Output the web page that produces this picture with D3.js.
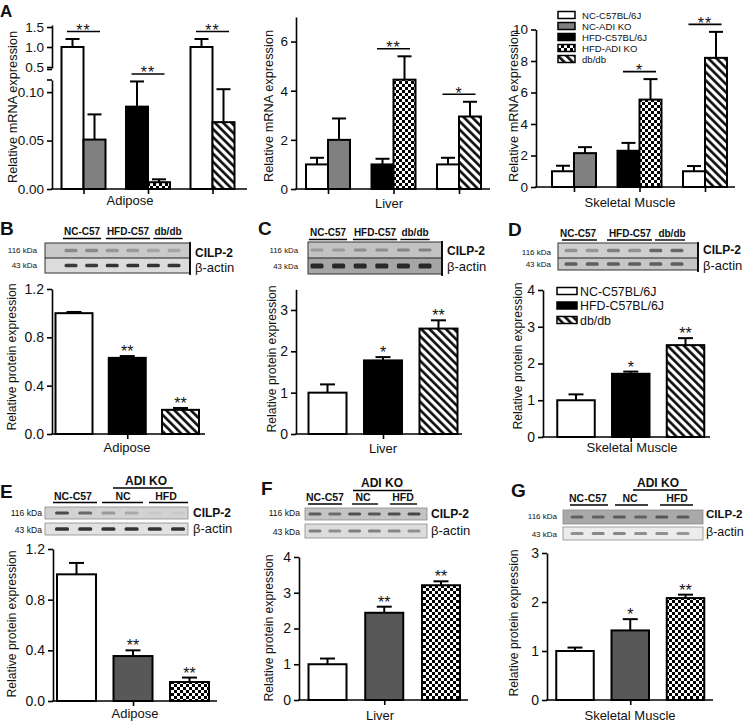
<!DOCTYPE html>
<html><head><meta charset="utf-8">
<script src="https://cdn.jsdelivr.net/npm/d3@7"></script>
<style>body{margin:0;background:#fff}svg{display:block}</style>
</head><body><svg id="c" width="744" height="722"></svg>
<script>
// ================= DATA =================
const seriesNames = ["NC-C57BL/6J","NC-ADI KO","HFD-C57BL/6J","HFD-ADI KO","db/db"];
const mrnaBarSeries = ["NC-C57BL/6J","NC-ADI KO","HFD-C57BL/6J","HFD-ADI KO","NC-C57BL/6J","db/db"];
const mrnaAdiposeMean = [1.0, 0.051, 0.085, 0.007, 1.0, 0.069];
const mrnaAdiposeSem  = [0.20, 0.026, 0.026, 0.003, 0.20, 0.034];
const mrnaAdiposeSig  = ["**","**","**"];
const mrnaLiverMean = [1.0, 2.0, 1.0, 4.45, 1.0, 2.95];
const mrnaLiverSem  = [0.27, 0.87, 0.23, 0.95, 0.27, 0.60];
const mrnaLiverSig  = ["","**","*"];
const mrnaMuscleMean = [1.0, 2.15, 2.3, 5.55, 1.0, 8.2];
const mrnaMuscleSem  = [0.35, 0.38, 0.5, 1.3, 0.33, 1.65];
const mrnaMuscleSig  = ["","*","**"];
const adiposeLowTicks = [0, 0.05, 0.10], adiposeLowLabels = ["0.00","0.05","0.10"];
const adiposeHighTicks = [0.5, 1.0, 1.5], adiposeHighLabels = ["0.5","1.0","1.5"];
const liverMrnaTicks = [0,2,4,6];
const muscleMrnaTicks = [0,2,4,6,8,10];

const protSeriesDiet = ["NC-C57BL/6J","HFD-C57BL/6J","db/db"];
const protSeriesKO   = ["NC-C57BL/6J","NC-ADI KO","HFD-ADI KO"];
const protAdiposeDietMean = [1.0, 0.63, 0.20], protAdiposeDietSem = [0.01, 0.015, 0.015], protAdiposeDietSig = ["","**","**"];
const protLiverDietMean   = [1.0, 1.78, 2.55], protLiverDietSem   = [0.20, 0.08, 0.20],  protLiverDietSig   = ["","*","**"];
const protMuscleDietMean  = [1.0, 1.72, 2.50], protMuscleDietSem  = [0.16, 0.06, 0.19],  protMuscleDietSig  = ["","*","**"];
const protAdiposeKOMean   = [1.0, 0.355, 0.15], protAdiposeKOSem  = [0.09, 0.045, 0.035], protAdiposeKOSig  = ["","**","**"];
const protLiverKOMean     = [1.0, 2.44, 3.21], protLiverKOSem     = [0.16, 0.17, 0.11],  protLiverKOSig     = ["","**","**"];
const protMuscleKOMean    = [1.0, 1.42, 2.08], protMuscleKOSem    = [0.07, 0.23, 0.07],  protMuscleKOSig    = ["","*","**"];
const ticks12 = [0, 0.4, 0.8, 1.2], ticks12Labels = ["0.0","0.4","0.8","1.2"];
const ticks3 = [0,1,2,3], ticks4 = [0,1,2,3,4];

const blotDietGroups = ["NC-C57","HFD-C57","db/db"];
const blotKOGroups = ["NC-C57","NC","HFD"];
const blotKOHeader = "ADI KO";
const blotBands = ["CILP-2","\u03B2-actin"];
const blotMarkers = ["116 kDa","43 kDa"];

// ================= SETUP =================
const FONT = '"Liberation Sans", Arial, Helvetica, sans-serif';
const svg = d3.select("#c");
const defs = svg.append("defs");
const ck = defs.append("pattern").attr("id","checker").attr("width",6).attr("height",6).attr("patternUnits","userSpaceOnUse");
ck.append("rect").attr("width",6).attr("height",6).attr("fill","#fff");
ck.append("rect").attr("width",3).attr("height",3).attr("fill","#000");
ck.append("rect").attr("x",3).attr("y",3).attr("width",3).attr("height",3).attr("fill","#000");
const ht = defs.append("pattern").attr("id","hatch").attr("width",5.8).attr("height",5.8)
  .attr("patternUnits","userSpaceOnUse").attr("patternTransform","rotate(-45)");
ht.append("rect").attr("width",5.8).attr("height",5.8).attr("fill","#fff");
ht.append("line").attr("x1",1.4).attr("x2",1.4).attr("y1",-1).attr("y2",7).attr("stroke","#000").attr("stroke-width",2.5);
defs.append("filter").attr("id","blur").attr("x","-20%").attr("y","-50%").attr("width","140%").attr("height","200%")
  .append("feGaussianBlur").attr("stdDeviation",0.7);

const fillA = {"NC-C57BL/6J":"#fff","NC-ADI KO":"#808080","HFD-C57BL/6J":"#000","HFD-ADI KO":"url(#checker)","db/db":"url(#hatch)"};
const fillP = {"NC-C57BL/6J":"#fff","NC-ADI KO":"#585858","HFD-C57BL/6J":"#000","HFD-ADI KO":"url(#checker)","db/db":"url(#hatch)"};

function txt(g, x, y, s, size, opts = {}) {
  const t = g.append("text").attr("x", x).attr("y", y).text(s)
    .attr("font-family", FONT).attr("font-size", size).attr("fill", "#111")
    .attr("text-anchor", opts.anchor || "start");
  if (opts.bold) t.attr("font-weight", "bold");
  if (opts.rot) t.attr("transform", `rotate(-90,${x},${y})`);
  if (opts.ls) t.attr("letter-spacing", opts.ls);
  return t;
}

// generic bar panel
function drawBars(p) {
  const g = svg.append("g");
  p.yAxes.forEach(a => {
    const ax = d3.axisLeft(a.scale).tickValues(a.ticks).tickFormat((d, i) => a.labels[i])
      .tickSizeOuter(0).tickSizeInner(5).tickPadding(3);
    const ag = g.append("g").attr("transform", `translate(${p.axisX},0)`).call(ax);
    ag.selectAll("path,line").attr("stroke", "#000").attr("stroke-width", 1.6);
    ag.selectAll("text").attr("font-family", FONT).attr("font-size", p.tickFont).attr("fill", "#111");
    (a.breakTicks || []).forEach(v => {
      g.append("line").attr("x1", p.axisX - 5).attr("x2", p.axisX).attr("y1", v).attr("y2", v)
        .attr("stroke", "#000").attr("stroke-width", 1.6);
    });
  });
  const y = p.y;
  const y0 = y(0);
  g.append("line").attr("x1", p.axisX - 0.8).attr("x2", p.xEnd).attr("y1", y0).attr("y2", y0)
    .attr("stroke", "#000").attr("stroke-width", 1.6);
  const xa = d3.axisBottom(p.tickScale).tickFormat("").tickSizeInner(5).tickSizeOuter(0);
  const xg = g.append("g").attr("transform", `translate(0,${y0})`).call(xa);
  xg.select(".domain").remove();
  xg.selectAll("line").attr("stroke", "#000").attr("stroke-width", 1.6);
  const bars = p.mean.map((m, i) => ({ m, s: p.sem[i], series: p.series[i], x: p.barX(i), sig: p.barSig ? p.barSig[i] : "" }));
  g.selectAll("rect.bar").data(bars).join("rect").attr("class", "bar")
    .attr("x", d => d.x).attr("width", p.barW)
    .attr("y", d => y(d.m)).attr("height", d => y0 - y(d.m))
    .attr("fill", d => p.fills[d.series]).attr("stroke", "#000").attr("stroke-width", 2);
  bars.forEach(d => {
    const cx = d.x + p.barW / 2, yt = y(d.m + d.s);
    g.append("line").attr("x1", cx).attr("x2", cx).attr("y1", y(d.m)).attr("y2", yt).attr("stroke", "#000").attr("stroke-width", 2);
    g.append("line").attr("x1", cx - p.capW / 2).attr("x2", cx + p.capW / 2).attr("y1", yt).attr("y2", yt).attr("stroke", "#000").attr("stroke-width", 2);
    if (d.sig) txt(g, cx, yt + 1, d.sig, 16, { anchor: "middle" });
  });
  if (p.pairSig) {
    p.pairSig.forEach((s, k) => {
      if (!s) return;
      const gc = p.groupX(k);
      const top = Math.min(y(p.mean[2*k] + p.sem[2*k]), y(p.mean[2*k+1] + p.sem[2*k+1]));
      const ly = top - 7.5;
      g.append("line").attr("x1", gc - 16.5).attr("x2", gc + 16.5).attr("y1", ly).attr("y2", ly).attr("stroke", "#000").attr("stroke-width", 1.6);
      txt(g, gc, ly + 4.5, s, 16, { anchor: "middle", ls: 1 });
    });
  }
  txt(g, p.xLabel[0], p.xLabel[1], p.xTitle, p.xTitleFont, { anchor: "middle" });
  txt(g, p.yLabel[0], p.yLabel[1], p.yTitle, p.yTitleFont, { anchor: "middle", rot: true });
}

// ---------- Panel A (mRNA) ----------
function mrnaPanel(cfg) {
  const groupX = d3.scalePoint().domain([0, 1, 2]).range(cfg.groups);
  const bw = 22;
  drawBars({
    axisX: cfg.axisX, xEnd: cfg.xEnd, yAxes: cfg.yAxes, y: cfg.y,
    tickScale: groupX, mean: cfg.mean, sem: cfg.sem, series: mrnaBarSeries, fills: fillA,
    barW: bw, capW: 14, barX: i => groupX(Math.floor(i / 2)) - (i % 2 === 0 ? bw : 0),
    groupX, pairSig: cfg.sig, tickFont: 13.5,
    xTitle: cfg.xTitle, xLabel: cfg.xLabel, xTitleFont: 13,
    yTitle: "Relative mRNA expression", yLabel: cfg.yLabel, yTitleFont: 12.8
  });
}
const adLow = d3.scaleLinear().domain([0, 0.1125]).range([189, 80]);
const adHigh = d3.scaleLinear().domain([0.475, 1.55]).range([68, 25]);
const adY = v => v <= 0.1125 ? adLow(v) : adHigh(v);
mrnaPanel({ axisX: 52, xEnd: 247, groups: [83.5, 212.5],
  yAxes: [{ scale: adLow, ticks: adiposeLowTicks, labels: adiposeLowLabels, breakTicks: [80] },
          { scale: adHigh, ticks: adiposeHighTicks, labels: adiposeHighLabels, breakTicks: [69.5] }],
  y: adY, mean: mrnaAdiposeMean, sem: mrnaAdiposeSem, sig: mrnaAdiposeSig,
  xTitle: "Adipose", xLabel: [130, 205], yLabel: [17, 107] });
const livY = d3.scaleLinear().domain([0, 7]).range([189, 17]);
mrnaPanel({ axisX: 296, xEnd: 490, groups: [328, 459],
  yAxes: [{ scale: livY, ticks: liverMrnaTicks, labels: liverMrnaTicks.map(String) }],
  y: livY, mean: mrnaLiverMean, sem: mrnaLiverSem, sig: mrnaLiverSig,
  xTitle: "Liver", xLabel: [389, 207.5], yLabel: [273, 106] });
const musY = d3.scaleLinear().domain([0, 10]).range([187, 29.5]);
mrnaPanel({ axisX: 536, xEnd: 735, groups: [574, 705],
  yAxes: [{ scale: musY, ticks: muscleMrnaTicks, labels: muscleMrnaTicks.map(String) }],
  y: musY, mean: mrnaMuscleMean, sem: mrnaMuscleSem, sig: mrnaMuscleSig,
  xTitle: "Skeletal Muscle", xLabel: [630, 207], yLabel: [518, 106] });

(function () {
  const g = svg.append("g");
  const ly = d3.scalePoint().domain(seriesNames).range([15, 59]);
  seriesNames.forEach(s => {
    g.append("rect").attr("x", 558).attr("y", ly(s) - 3.5).attr("width", 17).attr("height", 7)
      .attr("fill", fillA[s]).attr("stroke", "#000").attr("stroke-width", 1.5);
    txt(g, 582, ly(s) + 3.5, s, 9.6);
  });
})();

// ---------- Protein panels ----------
function protPanel(cfg) {
  const cx = d3.scalePoint().domain([0, 1, 2]).range(cfg.centers);
  const mid = d3.scalePoint().domain([1]).range([cx(1), cx(1)]);
  drawBars({
    axisX: cfg.axisX, xEnd: cfg.xEnd,
    yAxes: [{ scale: cfg.y, ticks: cfg.ticks, labels: cfg.labels }], y: cfg.y,
    tickScale: mid, mean: cfg.mean, sem: cfg.sem, series: cfg.series, fills: fillP,
    barW: cfg.barW, capW: 15, barX: i => cx(i) - cfg.barW / 2, barSig: cfg.sig, tickFont: 14,
    xTitle: cfg.xTitle, xLabel: cfg.xLabel, xTitleFont: 13,
    yTitle: "Relative protein expression", yLabel: cfg.yLabel, yTitleFont: 12.2
  });
}
protPanel({ axisX: 52, xEnd: 205, centers: [74, 180.5], barW: 37,
  y: d3.scaleLinear().domain([0, 1.2]).range([434, 289]), ticks: ticks12, labels: ticks12Labels,
  mean: protAdiposeDietMean, sem: protAdiposeDietSem, sig: protAdiposeDietSig, series: protSeriesDiet,
  xTitle: "Adipose", xLabel: [127, 451.5], yLabel: [16, 357] });
protPanel({ axisX: 296, xEnd: 462, centers: [327.5, 438.5], barW: 38,
  y: d3.scaleLinear().domain([0, 3.5]).range([434, 289.3]), ticks: ticks3, labels: ticks3.map(String),
  mean: protLiverDietMean, sem: protLiverDietSem, sig: protLiverDietSig, series: protSeriesDiet,
  xTitle: "Liver", xLabel: [383, 453], yLabel: [276, 359] });
protPanel({ axisX: 543, xEnd: 710, centers: [576, 685.5], barW: 37.5,
  y: d3.scaleLinear().domain([0, 4]).range([437, 290]), ticks: ticks4, labels: ticks4.map(String),
  mean: protMuscleDietMean, sem: protMuscleDietSem, sig: protMuscleDietSig, series: protSeriesDiet,
  xTitle: "Skeletal Muscle", xLabel: [632, 452], yLabel: [522, 356] });
protPanel({ axisX: 53, xEnd: 217, centers: [76.5, 189.5], barW: 39,
  y: d3.scaleLinear().domain([0, 1.2]).range([701, 549]), ticks: ticks12, labels: ticks12Labels,
  mean: protAdiposeKOMean, sem: protAdiposeKOSem, sig: protAdiposeKOSig, series: protSeriesKO,
  xTitle: "Adipose", xLabel: [135, 717.5], yLabel: [16, 624] });
protPanel({ axisX: 299, xEnd: 468, centers: [327.5, 441], barW: 38,
  y: d3.scaleLinear().domain([0, 4]).range([700, 557]), ticks: ticks4, labels: ticks4.map(String),
  mean: protLiverKOMean, sem: protLiverKOSem, sig: protLiverKOSig, series: protSeriesKO,
  xTitle: "Liver", xLabel: [380, 720], yLabel: [273, 628] });
protPanel({ axisX: 547, xEnd: 713, centers: [575, 685.5], barW: 37.5,
  y: d3.scaleLinear().domain([0, 3]).range([700, 553]), ticks: ticks3, labels: ticks3.map(String),
  mean: protMuscleKOMean, sem: protMuscleKOSem, sig: protMuscleKOSig, series: protSeriesKO,
  xTitle: "Skeletal Muscle", xLabel: [630, 720], yLabel: [518, 623] });

(function () {
  const g = svg.append("g");
  const ly = d3.scalePoint().domain(protSeriesDiet).range([291, 320]);
  protSeriesDiet.forEach(s => {
    g.append("rect").attr("x", 557).attr("y", ly(s) - 3.5).attr("width", 20).attr("height", 7)
      .attr("fill", fillP[s]).attr("stroke", "#000").attr("stroke-width", 1.5);
    txt(g, 580, ly(s) + 4.5, s, 12.4);
  });
})();

// ---------- Western blots (illustrative) ----------
function drawBlot(b) {
  const g = svg.append("g");
  const lane = d3.scalePoint().domain(d3.range(6)).range(b.lanes);
  b.rows.forEach((r, i) => {
    g.append("rect").attr("x", b.x[0]).attr("y", r.y[0]).attr("width", b.x[1] - b.x[0]).attr("height", r.y[1] - r.y[0])
      .attr("fill", r.bg).attr("stroke", b.joined ? "none" : "#8a8a8a").attr("stroke-width", 0.8);
    r.int.forEach((v, j) => {
      if (v <= 0) return;
      g.append("rect").attr("x", lane(j) - b.bandW / 2).attr("y", (r.y[0] + r.y[1]) / 2 - r.bh / 2 + (r.dy || 0))
        .attr("width", b.bandW).attr("height", r.bh).attr("rx", 1.5)
        .attr("fill", r.band).attr("opacity", v).attr("filter", "url(#blur)");
    });
    txt(g, b.labelX, r.lab, blotBands[i], i === 0 ? b.labFont : b.labFont + 1, { bold: i === 0 });
    txt(g, b.kdaX, r.kda, blotMarkers[i], b.kdaFont, { anchor: "end" });
  });
  if (b.joined) {
    g.append("rect").attr("x", b.x[0]).attr("y", b.rows[0].y[0]).attr("width", b.x[1] - b.x[0])
      .attr("height", b.rows[1].y[1] - b.rows[0].y[0]).attr("fill", "none").attr("stroke", "#333").attr("stroke-width", 1);
    g.append("line").attr("x1", b.x[0]).attr("x2", b.x[1]).attr("y1", b.rows[0].y[1]).attr("y2", b.rows[0].y[1])
      .attr("stroke", "#222").attr("stroke-width", 1.2);
    g.append("line").attr("x1", b.x[1]).attr("x2", b.x[1]).attr("y1", b.rows[0].y[0] - 1).attr("y2", b.rows[1].y[1] + 2)
      .attr("stroke", "#000").attr("stroke-width", 1.8);
  }
  b.groupNames.forEach((s, k) => {
    const t = txt(g, b.groupCx[k], b.groupY, s, b.groupFont, { anchor: "middle", bold: true });
    const ext = b.underline ? b.underline[k] : (() => { const w = t.node().getComputedTextLength(); return [b.groupCx[k] - w / 2 - 1, b.groupCx[k] + w / 2 + 1]; })();
    g.append("line").attr("x1", ext[0]).attr("x2", ext[1]).attr("y1", b.ulY).attr("y2", b.ulY).attr("stroke", "#000").attr("stroke-width", 1.4);
  });
  if (b.header) {
    txt(g, b.header.cx, b.header.y, blotKOHeader, 12, { anchor: "middle", bold: true });
    g.append("line").attr("x1", b.header.line[0]).attr("x2", b.header.line[1]).attr("y1", b.header.ly).attr("y2", b.header.ly)
      .attr("stroke", "#000").attr("stroke-width", 1.4);
  }
}

drawBlot({ x: [45, 190], joined: true, lanes: [71, 174], bandW: 13, labelX: 195, labFont: 12, kdaX: 37, kdaFont: 8,
  rows: [{ y: [243, 258], bg: "#c9c9c9", band: "#6e6e6e", bh: 3.5, int: [0.7, 0.7, 0.55, 0.5, 0.4, 0.4], lab: 257, kda: 253 },
         { y: [258, 273], bg: "#dcdcdc", band: "#2a2a2a", bh: 3.5, int: [0.9, 0.9, 0.95, 0.95, 0.95, 0.95], lab: 272, kda: 268 }],
  groupNames: blotDietGroups, groupCx: [82, 128, 168], groupY: 235, groupFont: 10, ulY: 238.5 });
drawBlot({ x: [308, 442], joined: true, lanes: [317, 425], bandW: 13, labelX: 447, labFont: 12, kdaX: 298, kdaFont: 7.8,
  rows: [{ y: [242, 258], bg: "#c2c2c2", band: "#6a6a6a", bh: 3, int: [0.45, 0.45, 0.6, 0.6, 0.7, 0.75], lab: 255, kda: 253 },
         { y: [258, 274], bg: "#a6a6a6", band: "#222", bh: 5, int: [0.95, 0.95, 0.95, 0.95, 0.95, 0.95], lab: 271, kda: 269 }],
  groupNames: blotDietGroups, groupCx: [328, 375, 415], groupY: 236, groupFont: 10, ulY: 239.5 });
drawBlot({ x: [558, 698], joined: true, lanes: [571, 677], bandW: 13, labelX: 703, labFont: 12, kdaX: 551, kdaFont: 8,
  rows: [{ y: [243, 258], bg: "#cfcfcf", band: "#555", bh: 3.5, int: [0.5, 0.45, 0.65, 0.5, 0.85, 0.85], lab: 254, kda: 255 },
         { y: [258, 270], bg: "#c6c6c6", band: "#444", bh: 3.5, int: [0.8, 0.8, 0.8, 0.8, 0.8, 0.8], lab: 270, kda: 267 }],
  groupNames: blotDietGroups, groupCx: [578, 630, 672], groupY: 237, groupFont: 10, ulY: 240,
  underline: [[562, 597], [607, 652], [655, 685]] });
drawBlot({ x: [45, 188], joined: false, lanes: [62, 178], bandW: 14, labelX: 193, labFont: 12, kdaX: 42, kdaFont: 8.6,
  rows: [{ y: [507, 519], bg: "#d2d2d2", band: "#333", bh: 3, int: [0.85, 0.65, 0.35, 0.25, 0.05, 0.05], lab: 517, kda: 516 },
         { y: [523, 535], bg: "#e2e2e2", band: "#222", bh: 3.5, int: [0.9, 0.9, 0.9, 0.9, 0.9, 0.9], lab: 533, kda: 533 }],
  groupNames: blotKOGroups, groupCx: [73, 123, 166], groupY: 499.5, groupFont: 10.5, ulY: 502.5,
  underline: [[53, 97], [102, 143], [149, 188]],
  header: { cx: 146, y: 485, line: [113, 173], ly: 488 } });
drawBlot({ x: [305, 427], joined: false, lanes: [315, 414], bandW: 13, labelX: 431, labFont: 12, kdaX: 300, kdaFont: 8.6,
  rows: [{ y: [508, 520], bg: "#c4c4c4", band: "#333", bh: 3, int: [0.7, 0.6, 0.8, 0.75, 0.8, 0.85], lab: 518, kda: 516 },
         { y: [524, 538], bg: "#dcdcdc", band: "#444", bh: 3, int: [0.6, 0.5, 0.6, 0.6, 0.55, 0.5], lab: 535, kda: 535 }],
  groupNames: blotKOGroups, groupCx: [325, 363, 403], groupY: 501, groupFont: 10.5, ulY: 504,
  underline: [[308, 342], [352, 378], [390, 417]],
  header: { cx: 382, y: 487, line: [353, 412], ly: 490.5 } });
drawBlot({ x: [563, 703], joined: false, lanes: [577, 683], bandW: 13, labelX: 706, labFont: 11.5, kdaX: 557, kdaFont: 8,
  rows: [{ y: [510, 524], bg: "#a9a9a9", band: "#333", bh: 3, int: [0.6, 0.6, 0.65, 0.6, 0.7, 0.65], lab: 518, kda: 519 },
         { y: [527, 540], bg: "#ececec", band: "#444", bh: 3, int: [0.55, 0.6, 0.6, 0.55, 0.55, 0.5], lab: 536, kda: 537 }],
  groupNames: blotKOGroups, groupCx: [588, 630, 677], groupY: 502, groupFont: 10.5, ulY: 505,
  underline: [[570, 608], [615, 648], [660, 693]],
  header: { cx: 658, y: 486.5, line: [633, 687], ly: 490 } });

// ---------- Panel letters ----------
const letters = [["A", 0, 17, 17], ["B", 0, 235, 19], ["C", 258, 235, 19], ["D", 508, 236, 19], ["E", 0, 498, 19], ["F", 261, 495, 19], ["G", 511, 497, 19]];
letters.forEach(([s, x, y, f]) => txt(svg, x, y, s, f, { bold: true }));
</script></body></html>
